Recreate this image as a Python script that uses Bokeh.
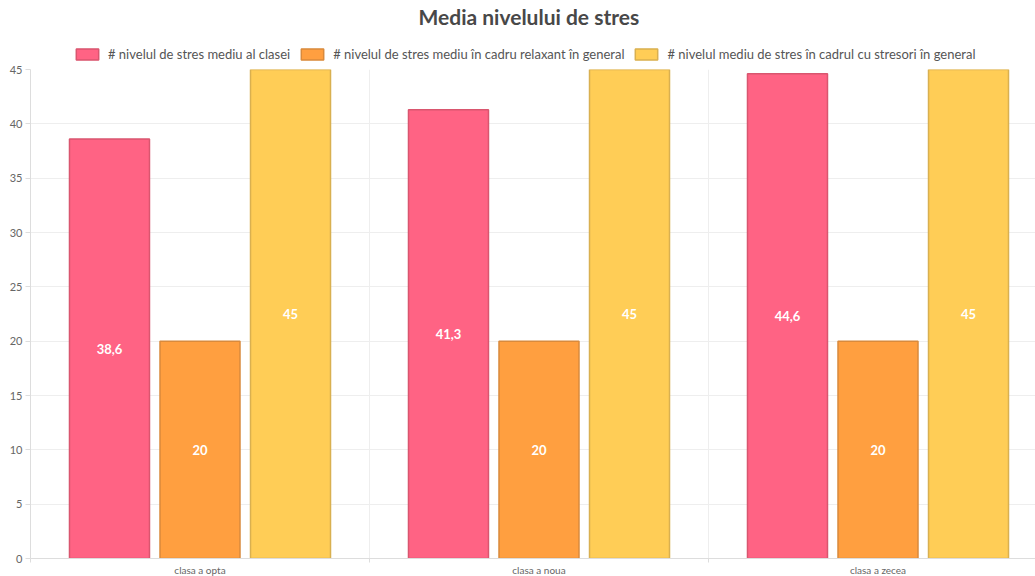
from bokeh.plotting import figure
from bokeh.layouts import column
from bokeh.models import (ColumnDataSource, Range1d, FixedTicker, Legend, LegendItem)
from bokeh.core.properties import value
from bokeh.embed import file_html
from bokeh.resources import INLINE

categories = ["clasa a opta", "clasa a noua", "clasa a zecea"]
series_names = [
    "# nivelul de stres mediu al clasei",
    "# nivelul de stres mediu în cadru relaxant în general",
    "# nivelul mediu de stres în cadrul cu stresori în general",
]
stres_clasa = [38.6, 41.3, 44.6]
stres_relaxant = [20, 20, 20]
stres_stresori = [45, 45, 45]
y_ticks = [0, 5, 10, 15, 20, 25, 30, 35, 40, 45]

series = [stres_clasa, stres_relaxant, stres_stresori]
fills = ["#ff6384", "#ff9f40", "#ffcd56"]
borders = ["#d9566f", "#d98a3c", "#d9b050"]
offsets = [-0.267, 0.0, 0.267]
bar_w = 0.236

FONT = "Lato"

# ---- header figure: title + legend ----
head = figure(width=1035, height=62, output_backend="svg", toolbar_location=None,
              x_range=Range1d(0, 1), y_range=Range1d(0, 1),
              x_axis_location=None, y_axis_location=None,
              min_border_left=0, min_border_right=0, min_border_top=2, min_border_bottom=0)
head.grid.visible = False
head.outline_line_color = None
head.title.text = "Media nivelului de stres"
head.title.text_font = FONT
head.title.text_font_size = "21px"
head.title.text_font_style = "bold"
head.title.text_color = "#484848"
head.title.align = "left"
head.title.offset = 388
head.title.standoff = 3

# ---- main chart ----
p = figure(frame_width=1005, frame_height=489, output_backend="svg", toolbar_location=None,
           x_range=Range1d(0, 1005 / 339), y_range=Range1d(0, 45),
           min_border_left=30, min_border_right=0, min_border_top=7, min_border_bottom=0)

items = []
for i, vals in enumerate(series):
    xs = [k + 0.5 + offsets[i] for k in range(len(categories))]
    src = ColumnDataSource(dict(x=xs, top=vals, mid=[v / 2 for v in vals],
                                lbl=[("%g" % v).replace(".", ",") for v in vals]))
    p.vbar(x="x", top="top", width=bar_w, source=src, fill_color=fills[i],
           line_color=borders[i], line_width=1.5)
    p.text(x="x", y="mid", text="lbl", source=src, text_color="white",
           text_font=value(FONT), text_font_size="13px", text_font_style="bold",
           text_align="center", text_baseline="middle")
    # hidden proxy renderer in the header figure, only used for the legend swatch
    r = head.vbar(x="x", top="top", width=bar_w, source=src, fill_color=fills[i],
                  line_color=borders[i], line_width=1.5, visible=False)
    items.append(LegendItem(label=series_names[i], renderers=[r]))

legend = Legend(items=items, orientation="horizontal", location=(43, 0),
                glyph_width=28, glyph_height=14, label_height=16, label_standoff=7, spacing=8,
                label_text_font=FONT, label_text_font_size="13px",
                label_text_color="#555555", border_line_color=None,
                background_fill_alpha=0, padding=0, margin=0,
                inactive_fill_alpha=0)
head.add_layout(legend, "center")

# axes
p.yaxis.ticker = FixedTicker(ticks=y_ticks)
p.yaxis.major_label_text_font = FONT
p.yaxis.major_label_text_font_size = "11px"
p.yaxis.major_label_text_color = "#666666"
p.yaxis.axis_line_color = "#dddddd"
p.yaxis.major_tick_line_color = "#dddddd"
p.yaxis.major_tick_out = 5
p.yaxis.major_tick_in = 0
p.yaxis.minor_tick_line_color = None
p.yaxis.major_label_standoff = 3

p.xaxis.ticker = FixedTicker(ticks=[k + 0.5 for k in range(len(categories))],
                             minor_ticks=[0, 1, 2, 3])
p.xaxis.major_label_overrides = {k + 0.5: c for k, c in enumerate(categories)}
p.xaxis.major_label_text_font = FONT
p.xaxis.major_label_text_font_size = "10px"
p.xaxis.major_label_text_color = "#666666"
p.xaxis.axis_line_color = "#dddddd"
p.xaxis.major_tick_line_color = None
p.xaxis.major_tick_out = 0
p.xaxis.major_tick_in = 0
p.xaxis.minor_tick_line_color = "#dddddd"
p.xaxis.minor_tick_out = 4
p.xaxis.minor_tick_in = 0
p.xaxis.major_label_standoff = 1

p.xgrid.ticker = FixedTicker(ticks=[1, 2])
p.xgrid.grid_line_color = "#eeeeee"
p.ygrid.ticker = FixedTicker(ticks=y_ticks)
p.ygrid.grid_line_color = "#eeeeee"
p.outline_line_color = None

layout = column(head, p, spacing=0)
open("out.html", "w").write(file_html(layout, INLINE))
